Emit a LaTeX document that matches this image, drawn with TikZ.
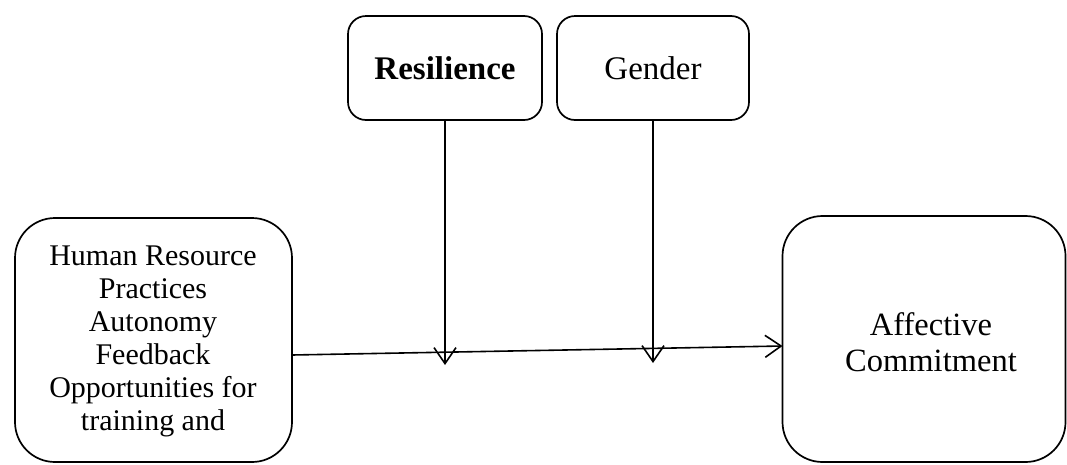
\documentclass[tikz,border=0pt]{standalone}
\usepackage{fontspec}
\setmainfont{Liberation Serif}
\usetikzlibrary{arrows.meta}
\tikzset{
  box/.style={draw=black, line width=1.7pt, fill=white, inner sep=0pt, outer sep=0pt, align=center},
  bigbox/.style={box, rounded corners=40pt},
  smallbox/.style={box, rounded corners=18pt, font=\fontsize{33}{36}\selectfont},
  label/.style={align=center, inner sep=0pt},
  link/.style={line width=1.6pt, -{Straight Barb[length=16pt,width=22pt,line width=1.6pt]}},
}
\begin{document}
\begin{tikzpicture}[x=1pt,y=-1pt]
\useasboundingbox (0,0) rectangle (1067,464);
\node[bigbox, minimum width=277pt, minimum height=244pt] (hr) at (153.5,340) {};
\node[label, font=\fontsize{30}{33}\selectfont] (hrtext) at (153,341)
  {Human Resource\\Practices\\Autonomy\\Feedback\\Opportunities for\\training and};
\node[bigbox, minimum width=283pt, minimum height=246pt] (ac) at (924,339) {};
\node[label, font=\fontsize{32.5}{36}\selectfont] (actext) at (931,342) {Affective\\Commitment};
\node[smallbox, minimum width=194pt, minimum height=104pt] (res) at (445,68) {\textbf{Resilience}};
\node[smallbox, minimum width=192pt, minimum height=104pt] (gen) at (653,68) {Gender};
\coordinate (rtip) at (445,365);
\coordinate (gtip) at (653,363);
\draw[link] (hr.east |- 0,355) coordinate (hstart) -- (ac.west |- 0,346);
\draw[link] (res.south) -- (rtip);
\draw[link] (gen.south) -- (gtip);
\end{tikzpicture}
\end{document}
